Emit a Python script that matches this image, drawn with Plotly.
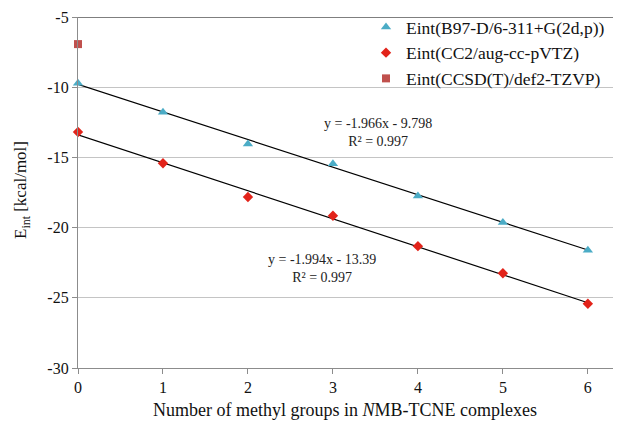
import plotly.graph_objects as go

# data
methyl_groups = [0, 1, 2, 3, 4, 5, 6]
eint_b97d = [-9.72, -11.78, -14.05, -15.45, -17.75, -19.63, -21.62]
eint_cc2 = [-13.19, -15.42, -17.82, -19.16, -21.32, -23.25, -25.42]
ccsd_x = [0]
eint_ccsd = [-6.93]

fit1_slope, fit1_icpt = -1.966, -9.798
fit2_slope, fit2_icpt = -1.994, -13.39
fit1_label = ["y = -1.966x - 9.798", "R² = 0.997"]
fit2_label = ["y = -1.994x - 13.39", "R² = 0.997"]

x_ticks = [0, 1, 2, 3, 4, 5, 6]
y_ticks = [-30, -25, -20, -15, -10, -5]
y_ticktext = ["-30", "-25", "-20", "-15", "-10", "-5"]

FONT = "Liberation Serif, Times New Roman, serif"

# page body has an 8px default margin; the figure is sized to fill the rest
W, H = 613, 416
ML, MT, MB, MR = 70, 9, 56, 0
PW, PH = W - ML - MR, H - MT - MB


def px_to_paper_x(px):
    return (px - 8 - ML) / PW


def px_to_paper_y(py):
    return (8 + MT + PH - py) / PH


fig = go.Figure()

fit_x = [0, 6]
fig.add_trace(go.Scatter(x=fit_x, y=[fit1_icpt + fit1_slope * v for v in fit_x],
                         mode="lines", line=dict(color="black", width=1.2),
                         showlegend=False, hoverinfo="skip"))
fig.add_trace(go.Scatter(x=fit_x, y=[fit2_icpt + fit2_slope * v for v in fit_x],
                         mode="lines", line=dict(color="black", width=1.2),
                         showlegend=False, hoverinfo="skip"))

fig.add_trace(go.Scatter(x=methyl_groups, y=eint_b97d, mode="markers",
                         name="Eint(B97-D/6-311+G(2d,p))", legendgroup="a",
                         marker=dict(symbol="triangle-up", size=9, color="#4BACC6"),
                         cliponaxis=False))
fig.add_trace(go.Scatter(x=methyl_groups, y=eint_cc2, mode="markers",
                         name="Eint(CC2/aug-cc-pVTZ)", legendgroup="b",
                         marker=dict(symbol="diamond", size=8, color="#E2231A"),
                         cliponaxis=False))
fig.add_trace(go.Scatter(x=ccsd_x, y=eint_ccsd, mode="markers",
                         name="Eint(CCSD(T)/def2-TZVP)", legendgroup="c",
                         marker=dict(symbol="square", size=8, color="#C0504D"),
                         cliponaxis=False))

fig.add_annotation(x=3.53, y=-13.2, xref="x", yref="y", text="<br>".join(fit1_label),
                   showarrow=False, font=dict(family=FONT, size=14, color="#222"),
                   align="center")
fig.add_annotation(x=2.87, y=-22.9, xref="x", yref="y", text="<br>".join(fit2_label),
                   showarrow=False, font=dict(family=FONT, size=14, color="#222"),
                   align="center")

# axis titles
fig.add_annotation(x=px_to_paper_x(345), y=px_to_paper_y(410), xref="paper", yref="paper",
                   text="Number of methyl groups in <i>N</i>MB-TCNE complexes",
                   showarrow=False, font=dict(family=FONT, size=18, color="#111"),
                   xanchor="center", yanchor="middle")
fig.add_annotation(x=px_to_paper_x(22), y=px_to_paper_y(190), xref="paper", yref="paper",
                   text="E<sub>int</sub> [kcal/mol]", textangle=-90,
                   showarrow=False, font=dict(family=FONT, size=17, color="#111"),
                   xanchor="center", yanchor="middle")

# top border line
fig.add_shape(type="line", xref="paper", yref="y", x0=0, x1=1, y0=-5, y1=-5,
              line=dict(color="black", width=1.2))

fig.update_layout(
    width=W, height=H,
    margin=dict(l=ML, r=MR, t=MT, b=MB, pad=0, autoexpand=False),
    paper_bgcolor="white", plot_bgcolor="white",
    font=dict(family=FONT, size=14, color="#111"),
    showlegend=True,
    legend=dict(x=px_to_paper_x(366), y=px_to_paper_y(9), xanchor="left", yanchor="top",
                bgcolor="rgba(255,255,255,0)", font=dict(family=FONT, size=17.5),
                tracegroupgap=0),
    xaxis=dict(range=[0, 6.39], tickvals=x_ticks, showgrid=False, zeroline=False,
               showline=True, linecolor="#8C8C8C", linewidth=1.2,
               ticks="outside", ticklen=5, tickcolor="#8C8C8C", automargin=False,
               tickfont=dict(family=FONT, size=16)),
    yaxis=dict(range=[-30, -5], tickvals=y_ticks, ticktext=y_ticktext,
               showgrid=True, gridcolor="#C4C4C4", gridwidth=1.2, zeroline=False,
               showline=True, linecolor="#8C8C8C", linewidth=1.2,
               ticks="outside", ticklen=5, tickcolor="#8C8C8C", automargin=False,
               tickfont=dict(family=FONT, size=16)),
)

fig.write_html("out.html")
